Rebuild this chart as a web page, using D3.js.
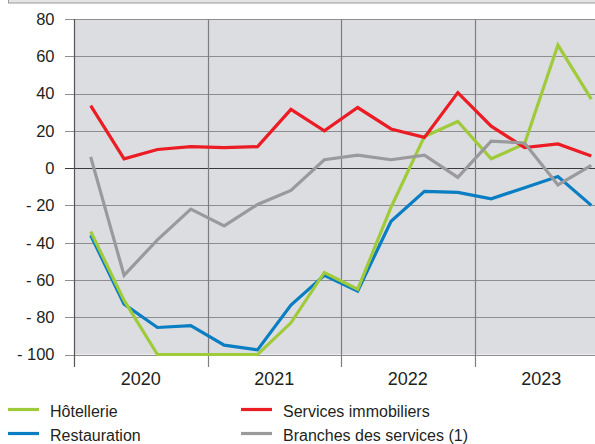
<!DOCTYPE html>
<html>
<head>
<meta charset="utf-8">
<script src="https://cdn.jsdelivr.net/npm/d3@7"></script>
<style>
  html, body { margin: 0; padding: 0; background: #ffffff; }
  svg { display: block; }
  text { font-family: "Liberation Sans", Arial, sans-serif; fill: #231f20; }
</style>
</head>
<body>
<svg id="chart" width="595" height="444"></svg>
<script>
const quarters = ["2020T1","2020T2","2020T3","2020T4","2021T1","2021T2","2021T3","2021T4",
                  "2022T1","2022T2","2022T3","2022T4","2023T1","2023T2","2023T3","2023T4"];
const years = ["2020","2021","2022","2023"];
const yTicks = [80, 60, 40, 20, 0, -20, -40, -60, -80, -100];

const hotellerie   = [-34, -71, -100, -100, -100, -100, -83, -56, -65, -21, 17, 25, 5, 13, 66, 37];
const restauration = [-36, -73, -85.5, -84.5, -95, -97.5, -73.5, -57.5, -66, -28.5, -12.5, -13, -16.5, -10.5, -4.5, -20];
const immobilier   = [33.5, 5, 10, 11.5, 11, 11.5, 31.5, 20, 32.5, 21, 16.5, 40.5, 22.5, 11, 13, 6.5];
const branches     = [6, -57.5, -38.5, -22, -31, -19.5, -12, 4.5, 7, 4.5, 7, -5, 14.5, 13.5, -9, 1.5];

const seriesNames = ["Hôtellerie", "Restauration", "Services immobiliers", "Branches des services (1)"];
const colors = { "Hôtellerie": "#9fcb3b", "Restauration": "#0a7ec2", "Services immobiliers": "#ec1c24", "Branches des services (1)": "#9a9a9c" };
const seriesData = { "Hôtellerie": hotellerie, "Restauration": restauration, "Services immobiliers": immobilier, "Branches des services (1)": branches };

const svg = d3.select("#chart");
const L = 74, T = 19, B = 354.5, R = 595;
const yearW = 133.5;

const x = d3.scaleBand().domain(quarters).range([L, L + yearW * 4]).padding(0);
const xYear = d3.scaleBand().domain(years).range([L, L + yearW * 4]).padding(0);
const y = d3.scaleLinear().domain([-100, 80]).range([B, T]);

// top frame
svg.append("rect").attr("x", 8.5).attr("y", -2).attr("width", 600).attr("height", 5)
  .attr("fill", "#e4e4e4").attr("stroke", "#9a9a9a").attr("stroke-width", 1);

svg.append("defs").append("clipPath").attr("id", "clip")
  .append("rect").attr("x", L).attr("y", T - 5).attr("width", R - L).attr("height", B - T + 10);

// plot background
svg.append("rect").attr("x", L).attr("y", T).attr("width", R - L).attr("height", B - T).attr("fill", "#dcdde0");

// horizontal gridlines
svg.append("g").selectAll("line").data(yTicks).join("line")
  .attr("x1", L - 9).attr("x2", R)
  .attr("y1", d => Math.round(y(d)) + 0.5).attr("y2", d => Math.round(y(d)) + 0.5)
  .attr("stroke", d => d === 0 ? "#3a3a3a" : "#8e8e90")
  .attr("stroke-width", d => d === 0 ? 1.2 : 1.2);

// vertical year lines
const yearBounds = years.map(yr => xYear(yr));
svg.append("g").selectAll("line").data(yearBounds).join("line")
  .attr("x1", d => Math.round(d) + 0.5).attr("x2", d => Math.round(d) + 0.5)
  .attr("y1", T).attr("y2", B + 12.5)
  .attr("stroke", (d, i) => i === 0 ? "#555" : "#7e7e80").attr("stroke-width", 1.2);

// y labels
svg.append("g").selectAll("text").data(yTicks).join("text")
  .attr("x", 54.5).attr("y", d => y(d)).attr("dy", "0.36em")
  .attr("text-anchor", "end").attr("font-size", "16.5px")
  .text(d => d < 0 ? "- " + Math.abs(d) : String(d));

// x labels
svg.append("g").selectAll("text").data(years).join("text")
  .attr("x", d => xYear(d) + xYear.bandwidth() / 2).attr("y", 385)
  .attr("text-anchor", "middle").attr("font-size", "18px")
  .text(d => d);

// lines
const line = d3.line()
  .x((d, i) => x(quarters[i]) + x.bandwidth() / 2)
  .y(d => y(d));

const drawOrder = ["Restauration", "Hôtellerie", "Services immobiliers", "Branches des services (1)"];
const g = svg.append("g").attr("clip-path", "url(#clip)");
drawOrder.forEach(name => {
  g.append("path").datum(seriesData[name])
    .attr("d", line).attr("fill", "none")
    .attr("stroke", colors[name]).attr("stroke-width", 3.2)
    .attr("stroke-linejoin", "miter");
});

// legend
const legendItems = [
  { name: "Hôtellerie", lx: 8, ly: 409.5 },
  { name: "Restauration", lx: 8, ly: 433.5 },
  { name: "Services immobiliers", lx: 241, ly: 409.5 },
  { name: "Branches des services (1)", lx: 241, ly: 433.5 }
];
const lg = svg.append("g");
legendItems.forEach(it => {
  lg.append("line").attr("x1", it.lx).attr("x2", it.lx + 31)
    .attr("y1", it.ly).attr("y2", it.ly)
    .attr("stroke", colors[it.name]).attr("stroke-width", 3.2);
  lg.append("text").attr("x", it.lx + 42).attr("y", it.ly + 7)
    .attr("font-size", "16px").text(it.name);
});
</script>
</body>
</html>
